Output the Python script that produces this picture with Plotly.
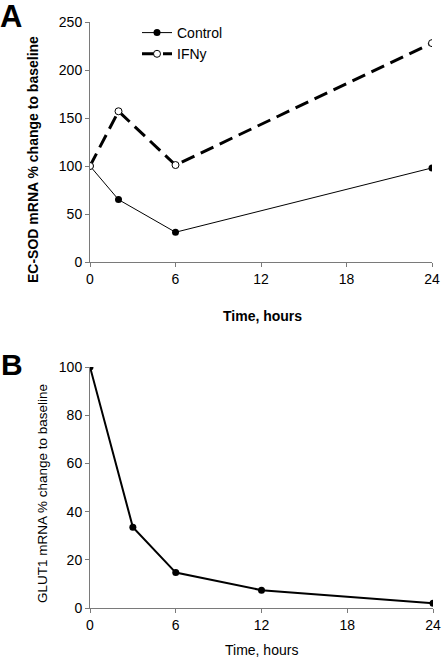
import plotly.graph_objects as go

# Panel A data
time_a = [0, 2, 6, 24]
control_a = [100, 65, 31, 98]
ifng_a = [100, 157, 101, 228]

# Panel B data
time_b = [0, 3, 6, 12, 24]
glut1_b = [100, 33.5, 14.7, 7.4, 2]

x_ticks = [0, 6, 12, 18, 24]
ya_ticks = [0, 50, 100, 150, 200, 250]
yb_ticks = [0, 20, 40, 60, 80, 100]

FONT = "Liberation Sans, Arial, sans-serif"
W, H = 442, 658

def px(x):
    return x / W

def py(y):
    return 1 - y / H

fig = go.Figure()
fig.add_trace(go.Scatter(x=time_a, y=control_a, name="Control", mode="lines+markers",
                         line=dict(color="black", width=1),
                         marker=dict(symbol="circle", size=7, color="black"),
                         xaxis="x", yaxis="y"))
fig.add_trace(go.Scatter(x=time_a, y=ifng_a, name="IFNy", mode="lines+markers",
                         line=dict(color="black", width=3, dash="14px,7px"),
                         marker=dict(symbol="circle", size=7, color="white",
                                     line=dict(color="black", width=1)),
                         xaxis="x", yaxis="y"))
fig.add_trace(go.Scatter(x=time_b, y=glut1_b, name="GLUT1", mode="lines+markers",
                         line=dict(color="black", width=2),
                         marker=dict(symbol="circle", size=7, color="black"),
                         xaxis="x2", yaxis="y2", showlegend=False))

axis_common = dict(showline=True, linecolor="#7a7a7a", linewidth=1, ticks="outside",
                   ticklen=4, tickcolor="#7a7a7a", showgrid=False, zeroline=False,
                   automargin=False,
                   tickfont=dict(family=FONT, size=14, color="black"))

fig.update_layout(
    width=W, height=H,
    margin=dict(l=0, r=0, t=0, b=0),
    paper_bgcolor="white", plot_bgcolor="white",
    font=dict(family=FONT, color="black"),
    xaxis=dict(domain=[px(90), px(432)], range=[0, 24], tickvals=x_ticks, anchor="y", **axis_common),
    yaxis=dict(domain=[py(262), py(22)], range=[0, 250], tickvals=ya_ticks, anchor="x", **axis_common),
    xaxis2=dict(domain=[px(90), px(433)], range=[0, 24], tickvals=x_ticks, anchor="y2", **axis_common),
    yaxis2=dict(domain=[py(608), py(367)], range=[0, 100], tickvals=yb_ticks, anchor="x2", **axis_common),
    legend=dict(x=px(137), y=py(17), xanchor="left", yanchor="top",
                bgcolor="rgba(0,0,0,0)", font=dict(family=FONT, size=14),
                itemwidth=30, tracegroupgap=0),
    annotations=[
        dict(text="<b>A</b>", x=0, y=1, xref="paper", yref="paper", xanchor="left", yanchor="top",
             showarrow=False, font=dict(family=FONT, size=31, color="black"), xshift=-2, yshift=3),
        dict(text="<b>B</b>", x=0, y=py(346), xref="paper", yref="paper", xanchor="left", yanchor="top",
             showarrow=False, font=dict(family=FONT, size=30, color="black"), xshift=-1),
        dict(text="<b>EC-SOD mRNA % change to baseline</b>", x=px(33), y=py(160), xref="paper", yref="paper",
             xanchor="center", yanchor="middle", textangle=-90, showarrow=False,
             font=dict(family=FONT, size=14, color="black")),
        dict(text="<b>Time, hours</b>", x=px(262), y=py(316), xref="paper", yref="paper",
             xanchor="center", yanchor="middle", showarrow=False,
             font=dict(family=FONT, size=14, color="black")),
        dict(text="GLUT1 mRNA % change to baseline", x=px(42), y=py(494), xref="paper", yref="paper",
             xanchor="center", yanchor="middle", textangle=-90, showarrow=False,
             font=dict(family=FONT, size=13.5, color="black")),
        dict(text="Time, hours", x=px(261), y=py(650), xref="paper", yref="paper",
             xanchor="center", yanchor="middle", showarrow=False,
             font=dict(family=FONT, size=14, color="black")),
    ],
)

fig.write_html("out.html", config={"displayModeBar": False},
               post_script="document.body.style.margin='0';document.body.style.overflow='hidden';")
